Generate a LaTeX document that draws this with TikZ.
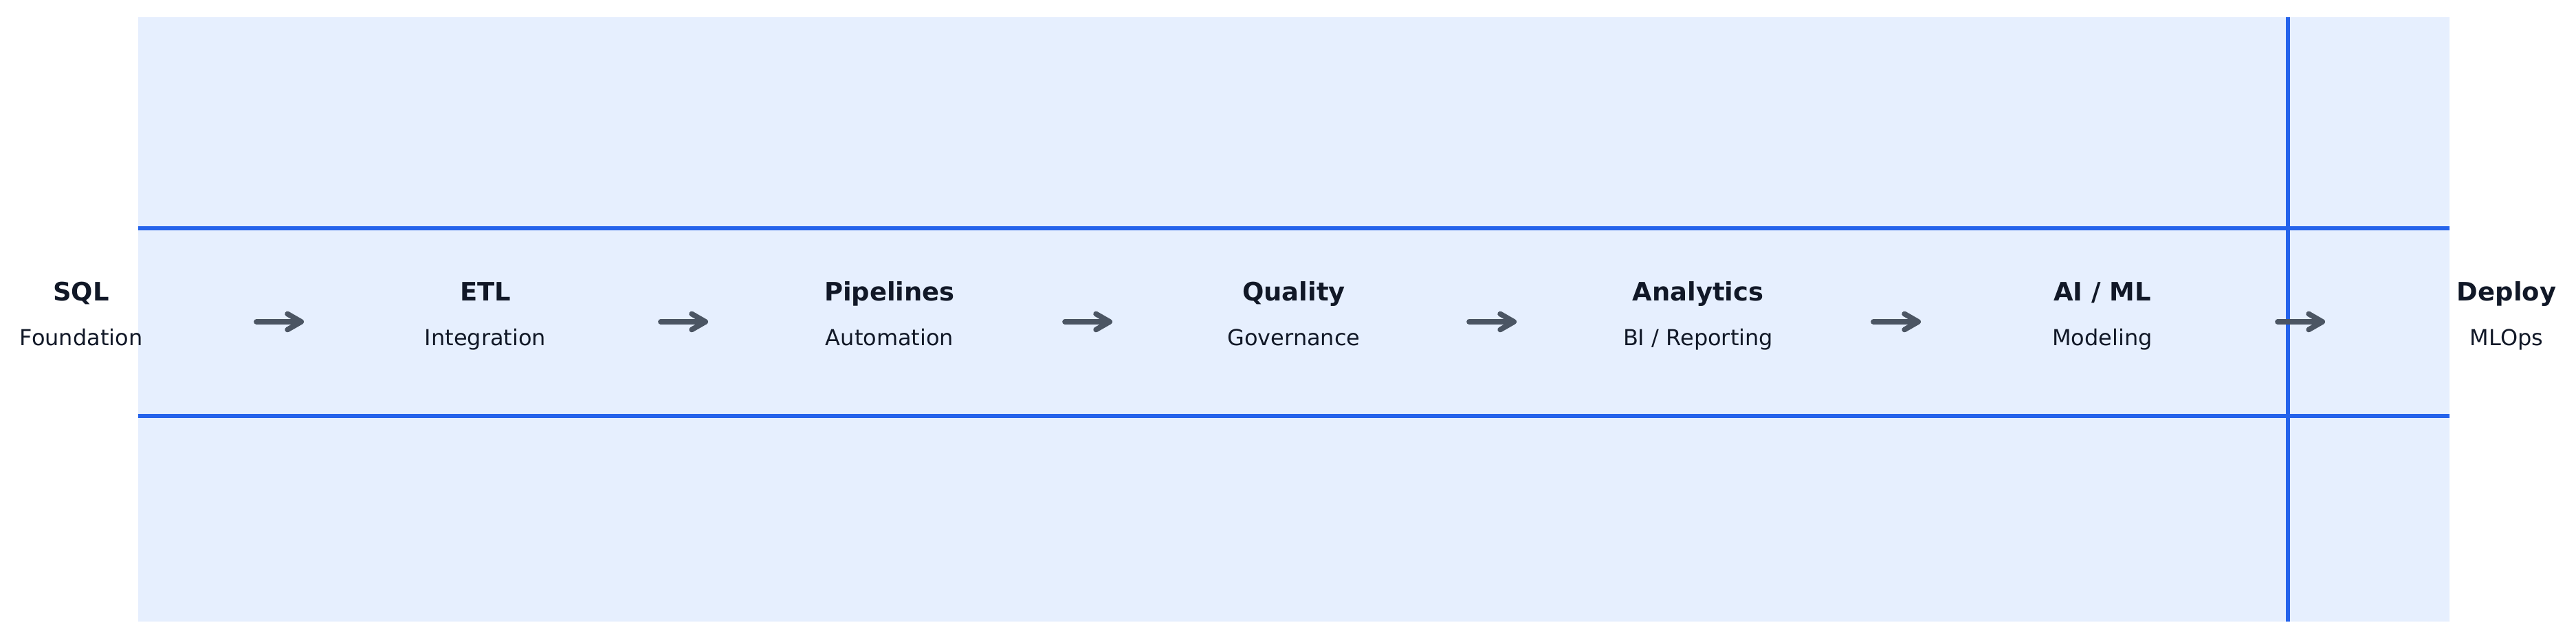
\documentclass[tikz,border=0pt]{standalone}
\usepackage{fontspec}
\setmainfont{DejaVu Sans}
\usetikzlibrary{arrows.meta}
\definecolor{bandfill}{HTML}{E6EFFE}
\definecolor{bandline}{HTML}{2563EB}
\definecolor{inkdark}{HTML}{111827}
\definecolor{arrowgray}{HTML}{4B5563}
\tikzset{
  stagetitle/.style={anchor=base, inner sep=0, text=inkdark, font=\fontsize{10.5}{12}\selectfont\bfseries},
  stagesub/.style={anchor=base, inner sep=0, text=inkdark, font=\fontsize{9.1}{11}\selectfont},
  flow/.style={arrowgray, line width=2.2pt, line cap=round, line join=round,
    -{Straight Barb[length=2mm, width=2.3mm, line cap=round, line join=round]},
    shorten <=2.55cm, shorten >=2.64cm},
  band/.style={bandline, line width=1.7pt}
}
\begin{document}
\begin{tikzpicture}
\useasboundingbox (0,0) rectangle (37.47,9.25);
\fill[bandfill] (2.01,0.21) rectangle (35.63,9.00);
\draw[band] (2.01,5.93) -- (35.63,5.93);
\draw[band] (2.01,3.20) -- (35.63,3.20);
\draw[band] (33.28,0.21) -- (33.28,9.00);
\foreach \name/\sub [count=\i from 0] in {SQL/Foundation, ETL/Integration, Pipelines/Automation,
    Quality/Governance, Analytics/{BI / Reporting}, {AI / ML}/Modeling, Deploy/MLOps} {
  \coordinate (c\i) at ({1.18+5.88*\i},4.57);
  \node[stagetitle] (t\i) at ({1.18+5.88*\i},4.87) {\name};
  \node[stagesub] (s\i) at ({1.18+5.88*\i},4.22) {\sub};
}
\foreach \i [evaluate=\i as \j using int(\i+1)] in {0,...,5} {
  \draw[flow] (c\i) -- (c\j);
}
\end{tikzpicture}
\end{document}
